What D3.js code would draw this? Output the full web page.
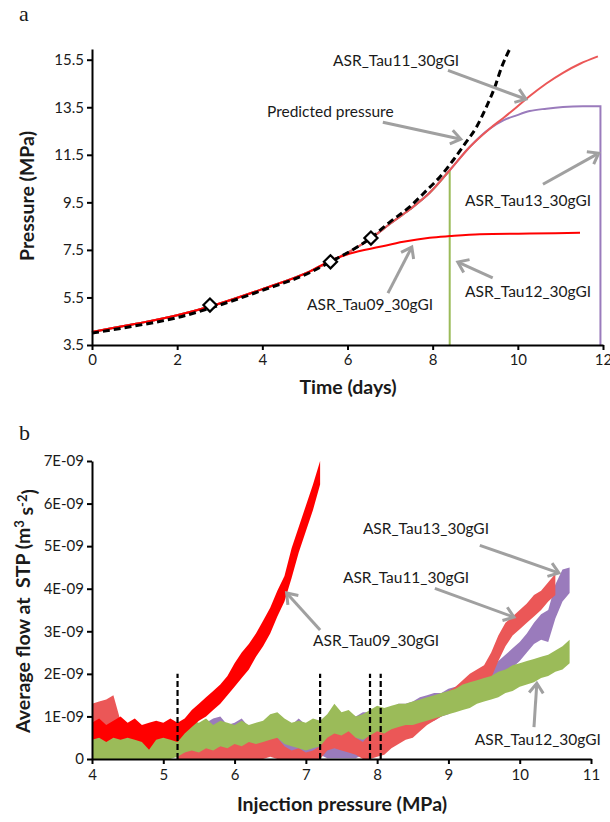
<!DOCTYPE html>
<html>
<head>
<meta charset="utf-8">
<script src="https://cdn.jsdelivr.net/npm/d3@7"></script>
<style>
  html, body { margin: 0; padding: 0; background: #fff; }
  svg { display: block; }
  text { font-family: Lato, "Open Sans", sans-serif; fill: #1a1a1a; }
</style>
</head>
<body>
<svg id="chart" width="610" height="822"></svg>
<script>
// ===================== DATA: panel a (pressure vs time) =====================
const timeTicks = [0, 2, 4, 6, 8, 10, 12];
const pressureTicks = [3.5, 5.5, 7.5, 9.5, 11.5, 13.5, 15.5];

const predictedTime     = [0, 1, 2, 2.77, 4, 5.12, 5.6, 6.0, 6.53, 7.0, 7.46, 7.86, 8.17, 8.48, 8.76, 9.03, 9.26, 9.46, 9.62, 9.81];
const predictedPressure = [4.0, 4.3, 4.65, 5.05, 5.8, 6.55, 7.0, 7.38, 7.98, 8.68, 9.31, 10.01, 10.57, 11.27, 11.97, 12.67, 13.51, 14.35, 15.19, 15.95];

const markerTime     = [2.77, 5.6, 6.55];
const markerPressure = [5.18, 7.0, 8.0];

const tau11Time     = [0, 1, 2, 2.77, 4, 5.12, 5.6, 6.0, 6.53, 7.0, 7.46, 7.93, 8.4, 8.87, 9.34, 9.66, 9.97, 10.28, 10.67, 11.06, 11.46, 11.88];
const tau11Pressure = [4.05, 4.38, 4.75, 5.12, 5.85, 6.6, 7.02, 7.38, 7.96, 8.6, 9.2, 9.9, 10.85, 11.83, 12.6, 13.05, 13.5, 13.97, 14.5, 14.95, 15.33, 15.64];

const tau13Time     = [0, 1, 2, 2.77, 4, 5.12, 5.6, 6.0, 6.53, 7.0, 7.46, 7.93, 8.4, 8.87, 9.34, 9.66, 9.97, 10.28, 10.67, 11.06, 11.53, 11.94];
const tau13Pressure = [4.05, 4.38, 4.75, 5.12, 5.85, 6.6, 7.02, 7.38, 7.96, 8.6, 9.2, 9.9, 10.85, 11.83, 12.6, 12.95, 13.16, 13.34, 13.44, 13.51, 13.54, 13.54];
const tau13EndPressure = 3.5;

const tau12Time     = [0, 1, 2, 2.77, 4, 5.12, 5.6, 6.0, 6.53, 7.0, 7.46, 7.93, 8.4];
const tau12Pressure = [4.05, 4.38, 4.75, 5.12, 5.85, 6.6, 7.02, 7.38, 7.96, 8.6, 9.2, 9.9, 10.85];
const tau12EndPressure = 3.5;

const tau09Time     = [0, 1, 2, 2.77, 4, 5.12, 5.6, 6.06, 6.76, 7.31, 7.93, 8.4, 9.11, 10.28, 11.46];
const tau09Pressure = [4.05, 4.38, 4.75, 5.12, 5.85, 6.6, 7.05, 7.35, 7.63, 7.84, 8.01, 8.08, 8.16, 8.19, 8.22];

// ===================== DATA: panel b (flow vs injection pressure) =====================
const injTicks = [4, 5, 6, 7, 8, 9, 10, 11];
const flowTicks = [0, 1, 2, 3, 4, 5, 6, 7];           // units of 1E-09 m3 s-2
const flowTickLabels = ["0", "1E-09", "2E-09", "3E-09", "4E-09", "5E-09", "6E-09", "7E-09"];

const pressureGrid = [4.0,4.1,4.2,4.3,4.4,4.5,4.6,4.7,4.8,4.9,5.0,5.1,5.2,5.3,5.4,5.5,5.6,5.7,5.8,5.9,
  6.0,6.1,6.2,6.3,6.4,6.5,6.6,6.7,6.8,6.9,7.0,7.1,7.2,7.3,7.4,7.5,7.6,7.7,7.8,7.9,
  8.0,8.1,8.2,8.3,8.4,8.5,8.6,8.7,8.8,8.9,9.0,9.1,9.2,9.3,9.4,9.5,9.6,9.7,9.8,9.9,
  10.0,10.1,10.2,10.3,10.4,10.5,10.6,10.7];

// Tau09 (bright red) flow band, lower and upper envelope
const tau09FlowLo = [.45,.5,.4,.5,.45,.5,.45,.4,.22,.45,.5,.45,.4,.6,.75,.9,1.0,1.15,1.3,1.5,
  1.7,1.9,2.1,2.4,2.65,2.95,3.35,3.7,4.25,4.85,5.35,5.85,6.45,
  null,null,null,null,null,null,null,null,null,null,null,null,null,null,null,null,null,null,null,null,null,null,null,null,null,null,null,null,null,null,null,null,null,null,null];
const tau09FlowHi = [.85,.95,.8,.9,1.0,.85,.95,.8,.85,.9,.85,.95,.85,.95,1.15,1.3,1.45,1.6,1.75,1.95,
  2.25,2.5,2.7,2.95,3.25,3.55,3.95,4.3,4.95,5.45,5.95,6.45,7.0,
  null,null,null,null,null,null,null,null,null,null,null,null,null,null,null,null,null,null,null,null,null,null,null,null,null,null,null,null,null,null,null,null,null,null,null];

// Tau11 (salmon) flow band
const tau11FlowLo = [.55,.7,.6,.65,.5,.4,.4,.4,.4,.4,.4,.4,0,0,0,0,0,0,0,0,
  0,0,0,0,0,.05,0,0,0,0,0,0,0,.2,.25,.2,.15,.1,0,0,
  .05,.1,.25,.35,.45,.5,.65,.8,.9,1.0,1.1,1.2,1.35,1.5,1.6,1.7,1.9,2.3,2.65,2.9,
  3.05,3.2,3.35,3.5,3.7,3.85,null,null];
const tau11FlowHi = [1.3,1.35,1.4,1.5,.9,.8,.8,.8,.8,.8,.8,.8,.2,.15,.25,.2,.3,.25,.3,.35,
  .4,.35,.45,.4,.45,.55,.5,.3,.2,.25,.15,.2,.3,.55,.7,.6,.75,.5,.4,.6,
  .7,.6,.8,.9,.95,1.0,1.15,1.35,1.4,1.5,1.6,1.7,1.85,2.0,2.1,2.2,2.5,2.9,3.2,3.35,
  3.5,3.65,3.85,3.95,4.15,4.35,null,null];

// Tau13 (purple) flow band
const tau13FlowLo = [.1,.1,.1,.1,.1,.1,.1,.1,.1,.1,.1,.1,.1,.1,.1,.1,.1,.1,.1,.1,
  .1,.1,.1,.1,.1,.1,.1,.1,.1,.1,.1,.1,.1,.02,.02,.02,.02,.02,.1,.1,
  .1,.2,.35,.45,.55,.65,.75,.85,.9,1.0,1.05,1.15,1.25,1.35,1.45,1.55,1.7,1.85,2.0,2.15,
  2.3,2.5,2.7,2.8,2.75,3.3,3.7,3.9];
const tau13FlowHi = [.6,.7,.65,.7,.6,.7,.65,.6,.6,.85,.6,.7,.75,.7,.8,.75,.85,.95,1.0,.8,
  .85,.95,.75,.8,.85,.95,1.0,.9,.8,.95,.8,.9,.85,1.0,1.2,1.05,1.1,1.0,1.1,1.1,
  1.2,1.15,1.2,1.3,1.3,1.35,1.45,1.5,1.55,1.55,1.65,1.7,1.8,1.85,1.95,2.0,2.1,2.3,2.45,2.6,
  2.75,2.95,3.2,3.4,3.5,4.1,4.45,4.5];

// Tau12 (green) flow band
const tau12FlowLo = [0,0,0,0,0,0,0,0,0,0,0,0,.05,.15,.2,.15,.25,.2,.3,.25,
  .35,.3,.4,.35,.4,.45,.5,.35,.3,.25,.2,.25,.3,.5,.6,.55,.65,.5,.45,.55,
  .65,.6,.7,.75,.8,.8,.85,.9,.95,1.0,1.05,1.1,1.15,1.2,1.3,1.35,1.4,1.45,1.55,1.6,
  1.7,1.75,1.8,1.9,1.95,2.05,2.1,2.25];
const tau12FlowHi = [.55,.75,.7,.8,.65,.75,.7,.6,.55,.7,.65,.75,.85,.8,.9,.85,.95,.8,.9,.85,
  .8,.9,.8,.85,.9,1.05,1.1,.95,.85,.9,.85,.95,.9,1.05,1.3,1.1,1.15,1.0,1.05,1.15,
  1.25,1.2,1.25,1.3,1.3,1.35,1.4,1.45,1.5,1.55,1.6,1.65,1.75,1.8,1.85,1.9,1.95,2.05,2.1,2.2,
  2.25,2.3,2.35,2.4,2.45,2.55,2.65,2.8];

const markerPressuresB = [5.2, 7.2, 7.9, 8.05];   // dashed vertical markers (MPa)
const markerFlowTop = 2.0;

// ===================== DRAWING =====================
const svg = d3.select("#chart");
const COL = { tau09: "#ff0000", tau11: "#eb5757", tau13: "#9a7bbc", tau12: "#9bbb59", arrow: "#a0a0a0" };
const TICK_FS = "15px", NOTE_FS = "15.5px", TITLE_FS = "19.5px";

function zip(xs, ys) { return xs.map((x, i) => ({ x, y: ys[i] })); }

function drawArrow(g, x1, y1, x2, y2) {
  const ang = Math.atan2(y2 - y1, x2 - x1), L = 12, phi = Math.PI * 0.2;
  g.append("line").attr("x1", x1).attr("y1", y1).attr("x2", x2 - 2 * Math.cos(ang)).attr("y2", y2 - 2 * Math.sin(ang))
    .attr("stroke", COL.arrow).attr("stroke-width", 3);
  const a = [x2 - L * Math.cos(ang - phi), y2 - L * Math.sin(ang - phi)];
  const b = [x2 - L * Math.cos(ang + phi), y2 - L * Math.sin(ang + phi)];
  g.append("path").attr("d", `M${a[0]},${a[1]}L${x2},${y2}L${b[0]},${b[1]}`)
    .attr("fill", "none").attr("stroke", COL.arrow).attr("stroke-width", 3);
}

function styleAxis(g) {
  g.select(".domain").attr("stroke", "#000").attr("stroke-width", 2);
  g.selectAll(".tick line").attr("stroke", "#000").attr("stroke-width", 2);
  g.selectAll(".tick text").style("font-family", "Lato, sans-serif").style("font-size", TICK_FS).attr("fill", "#1a1a1a");
}

// ---------- Panel a ----------
{
  const x = d3.scaleLinear().domain([0, 12]).range([92, 603]);
  const y = d3.scaleLinear().domain([3.5, 15.95]).range([345, 49]);
  const g = svg.append("g");

  svg.append("text").attr("x", 19).attr("y", 21).text("a")
    .style("font-family", "'Liberation Serif', 'DejaVu Serif', serif").style("font-size", "22px");

  const curve = d3.line().x(d => x(d.x)).y(d => y(d.y)).curve(d3.curveMonotoneX);

  const t12 = zip(tau12Time, tau12Pressure);
  g.append("path").attr("d", curve(t12) + `L${x(t12[t12.length - 1].x)},${y(tau12EndPressure)}`)
    .attr("fill", "none").attr("stroke", COL.tau12).attr("stroke-width", 2);
  const t13 = zip(tau13Time, tau13Pressure);
  g.append("path").attr("d", curve(t13) + `L${x(t13[t13.length - 1].x)},${y(tau13EndPressure)}`)
    .attr("fill", "none").attr("stroke", COL.tau13).attr("stroke-width", 2);
  g.append("path").attr("d", curve(zip(tau11Time, tau11Pressure)))
    .attr("fill", "none").attr("stroke", COL.tau11).attr("stroke-width", 2);
  g.append("path").attr("d", curve(zip(tau09Time, tau09Pressure)))
    .attr("fill", "none").attr("stroke", COL.tau09).attr("stroke-width", 2);
  g.append("path").attr("d", curve(zip(predictedTime, predictedPressure)))
    .attr("fill", "none").attr("stroke", "#000").attr("stroke-width", 3).attr("stroke-dasharray", "7,4");
  g.selectAll("path.dia").data(zip(markerTime, markerPressure)).join("path").attr("class", "dia")
    .attr("d", d3.symbol(d3.symbolDiamond2 || d3.symbolSquare2, 110))
    .attr("transform", d => `translate(${x(d.x)},${y(d.y)})` + (d3.symbolDiamond2 ? "" : " rotate(45)"))
    .attr("fill", "#fff").attr("stroke", "#000").attr("stroke-width", 2.2);

  const ax = g.append("g").attr("transform", "translate(0,345)")
    .call(d3.axisBottom(x).tickValues(timeTicks).tickSize(5).tickSizeOuter(0).tickPadding(4).tickFormat(d3.format("d")));
  styleAxis(ax);
  const ay = g.append("g").attr("transform", "translate(92,0)")
    .call(d3.axisLeft(y).tickValues(pressureTicks).tickSize(5).tickSizeOuter(0).tickPadding(3).tickFormat(d3.format(".1f")));
  styleAxis(ay);

  svg.append("text").attr("x", 348).attr("y", 394).attr("text-anchor", "middle")
    .style("font-size", TITLE_FS).style("font-weight", "bold").text("Time (days)");
  svg.append("text").attr("transform", "translate(34,196) rotate(-90)").attr("text-anchor", "middle")
    .style("font-size", TITLE_FS).style("font-weight", "bold").text("Pressure (MPa)");

  const notes = [
    { label: "ASR_Tau11_30gGI", tx: 5.66, ty: 15.47, ax1: 8.36, ay1: 15.05, ax2: 10.19, ay2: 13.84 },
    { label: "Predicted pressure", tx: 4.11, ty: 13.33, ax1: 6.83, ay1: 12.87, ax2: 8.66, ay2: 12.16 },
    { label: "ASR_Tau13_30gGI", tx: 8.76, ty: 9.59, ax1: 10.59, ay1: 10.26, ax2: 11.9, ay2: 11.57 },
    { label: "ASR_Tau09_30gGI", tx: 5.05, ty: 5.18, ax1: 6.95, ay1: 5.68, ax2: 7.51, ay2: 7.62 },
    { label: "ASR_Tau12_30gGI", tx: 8.76, ty: 5.73, ax1: 9.41, ay1: 6.32, ax2: 8.59, ay2: 6.99 }
  ];
  notes.forEach(n => {
    drawArrow(g, x(n.ax1), y(n.ay1), x(n.ax2), y(n.ay2));
    g.append("text").attr("x", x(n.tx)).attr("y", y(n.ty)).attr("dy", "0.35em")
      .style("font-size", NOTE_FS).text(n.label);
  });
}

// ---------- Panel b ----------
{
  const x = d3.scaleLinear().domain([4, 11]).range([92, 591]);
  const y = d3.scaleLinear().domain([0, 7]).range([759, 461]);
  const g = svg.append("g");

  svg.append("text").attr("x", 19).attr("y", 440).text("b")
    .style("font-family", "'Liberation Serif', 'DejaVu Serif', serif").style("font-size", "22px");

  svg.append("defs").append("clipPath").attr("id", "clipB")
    .append("rect").attr("x", 92).attr("y", 461).attr("width", 499).attr("height", 298);

  const plot = g.append("g").attr("clip-path", "url(#clipB)");
  const band = (lo, hi) => d3.area()
    .defined((d, i) => lo[i] != null && hi[i] != null)
    .x(d => x(d)).y0((d, i) => y(lo[i])).y1((d, i) => y(hi[i]))(pressureGrid);

  plot.append("path").attr("d", band(tau13FlowLo, tau13FlowHi)).attr("fill", COL.tau13);
  plot.append("path").attr("d", band(tau11FlowLo, tau11FlowHi)).attr("fill", COL.tau11);
  plot.append("path").attr("d", band(tau12FlowLo, tau12FlowHi)).attr("fill", COL.tau12);
  plot.append("path").attr("d", band(tau09FlowLo, tau09FlowHi)).attr("fill", COL.tau09);

  g.selectAll("line.mk").data(markerPressuresB).join("line").attr("class", "mk")
    .attr("x1", d => x(d)).attr("x2", d => x(d)).attr("y1", y(0)).attr("y2", y(markerFlowTop))
    .attr("stroke", "#000").attr("stroke-width", 2.2).attr("stroke-dasharray", "6,3");

  const ax = g.append("g").attr("transform", "translate(0,759)")
    .call(d3.axisBottom(x).tickValues(injTicks).tickSize(5).tickSizeOuter(0).tickPadding(5).tickFormat(d3.format("d")));
  styleAxis(ax);
  const ay = g.append("g").attr("transform", "translate(92,0)")
    .call(d3.axisLeft(y).tickValues(flowTicks).tickSize(5).tickSizeOuter(0).tickPadding(3)
      .tickFormat((d, i) => flowTickLabels[i]));
  styleAxis(ay);

  svg.append("text").attr("x", 342).attr("y", 811).attr("text-anchor", "middle")
    .style("font-size", TITLE_FS).style("font-weight", "bold").text("Injection pressure (MPa)");
  const yl = svg.append("text").attr("transform", "translate(30,611) rotate(-90)").attr("text-anchor", "middle")
    .style("font-size", TITLE_FS).style("font-weight", "bold");
  yl.append("tspan").text("Average flow at\u00a0 STP (m");
  yl.append("tspan").attr("dy", "-0.45em").style("font-size", "13px").text("3");
  yl.append("tspan").attr("dy", "0.45em").text(" s");
  yl.append("tspan").attr("dy", "-0.45em").style("font-size", "13px").text("-2");
  yl.append("tspan").attr("dy", "0.45em").text(")");

  const notes = [
    { label: "ASR_Tau13_30gGI", tx: 7.80, ty: 5.42, ax1: 9.44, ay1: 5.02, ax2: 10.55, ay2: 4.37 },
    { label: "ASR_Tau11_30gGI", tx: 7.52, ty: 4.25, ax1: 8.81, ay1: 4.01, ax2: 9.92, ay2: 3.33 },
    { label: "ASR_Tau09_30gGI", tx: 7.10, ty: 2.79, ax1: 7.20, ay1: 3.03, ax2: 6.73, ay2: 3.90 },
    { label: "ASR_Tau12_30gGI", tx: 9.37, ty: 0.45, ax1: 10.20, ay1: 0.75, ax2: 10.24, ay2: 1.78 }
  ];
  notes.forEach(n => {
    drawArrow(g, x(n.ax1), y(n.ay1), x(n.ax2), y(n.ay2));
    g.append("text").attr("x", x(n.tx)).attr("y", y(n.ty)).attr("dy", "0.35em")
      .style("font-size", NOTE_FS).text(n.label);
  });
}
</script>
</body>
</html>
